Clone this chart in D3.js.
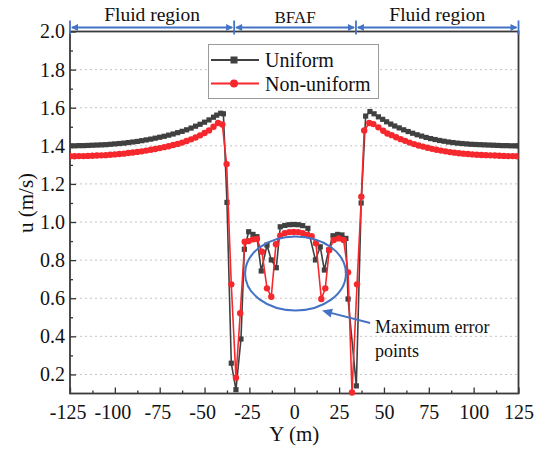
<!DOCTYPE html>
<html><head><meta charset="utf-8">
<script src="https://cdn.jsdelivr.net/npm/d3@7"></script>
<style>
html,body{margin:0;padding:0;background:#fff;}
svg{display:block;}
svg text{font-family:"Liberation Serif","Times New Roman",serif;}
</style></head>
<body><svg id="chart" width="535" height="450"></svg>
<script>
// ---- data ----
const uniformY = [-125,-122.5,-120,-117.5,-115,-112.5,-110,-107.5,-105,-102.5,-100,-97.5,-95,-92.5,-90,-87.5,-85,-82.5,-80,-77.5,-75,-72.5,-70,-67.5,-65,-62.5,-60,-57.5,-55,-52.5,-50,-47.5,-45,-43.2,-41,-39.5,-37.5,-35.1,-32.5,-29.7,-27.8,-25.4,-23.0,-20.8,-18.4,-15.2,-12.8,-10.0,-7.8,-5.3,-2.8,-0.3,2.2,4.7,7.6,11.8,14.5,16.8,19.2,21.6,24.2,26.6,28.8,30.0,34.6,37.3,39.8,42.2,44.5,46.9,49.3,51.5,53.8,56.0,58.5,61,63.5,66,68.5,71,73.5,76,78.5,81,83.5,86,88.5,91,93.5,96,98.5,101,103.5,106,108.5,111,113.5,116,118.5,121,123.5,125];
const uniformU = [1.400,1.400,1.401,1.401,1.402,1.403,1.404,1.405,1.406,1.408,1.410,1.412,1.414,1.417,1.420,1.423,1.427,1.431,1.435,1.440,1.445,1.450,1.456,1.462,1.469,1.476,1.484,1.493,1.503,1.513,1.524,1.536,1.550,1.561,1.571,1.568,1.103,0.259,0.120,0.386,0.857,0.949,0.935,0.923,0.743,0.879,0.801,0.760,0.975,0.982,0.986,0.987,0.986,0.981,0.967,0.801,0.870,0.748,0.853,0.928,0.935,0.932,0.914,0.596,0.140,1.100,1.556,1.580,1.568,1.552,1.539,1.526,1.514,1.504,1.494,1.484,1.475,1.466,1.458,1.451,1.444,1.438,1.433,1.428,1.424,1.420,1.417,1.414,1.412,1.410,1.408,1.407,1.406,1.405,1.404,1.403,1.402,1.401,1.401,1.400,1.400,1.400];
const nonUniformY = [-125,-122.5,-120,-117.5,-115,-112.5,-110,-107.5,-105,-102.5,-100,-97.5,-95,-92.5,-90,-87.5,-85,-82.5,-80,-77.5,-75,-72.5,-70,-67.5,-65,-62.5,-60,-57.5,-55,-52.5,-50,-47.5,-45,-42.5,-40.1,-37.7,-35.1,-32.5,-30.1,-27.6,-25.4,-23.0,-20.8,-18.0,-15.2,-12.8,-10.2,-7.8,-5.3,-2.8,-0.3,2.2,4.7,7.2,9.7,12.1,15.1,17.3,19.5,22.0,24.8,27.5,30.0,32.2,35.0,37.4,39.0,41.8,44.1,46.9,49.6,51.9,54.3,56.8,59.3,61.8,64.3,66.8,69.3,71.8,74.3,76.8,79.3,81.8,84.3,86.8,89.3,91.8,94.3,96.8,99.3,101.8,104.3,106.8,109.3,111.8,114.3,116.8,119.3,121.8,124.3];
const nonUniformU = [1.345,1.345,1.346,1.346,1.347,1.348,1.349,1.350,1.351,1.353,1.355,1.357,1.359,1.362,1.365,1.368,1.371,1.375,1.379,1.383,1.388,1.393,1.398,1.404,1.410,1.417,1.425,1.434,1.444,1.455,1.467,1.481,1.500,1.520,1.512,1.304,0.673,0.183,0.521,0.897,0.900,0.909,0.911,0.844,0.652,0.608,0.883,0.928,0.942,0.947,0.948,0.947,0.942,0.932,0.925,0.888,0.596,0.652,0.853,0.906,0.914,0.906,0.736,0.105,0.673,1.133,1.480,1.520,1.514,1.497,1.479,1.465,1.456,1.445,1.435,1.426,1.417,1.409,1.402,1.396,1.390,1.384,1.379,1.375,1.371,1.367,1.364,1.361,1.359,1.357,1.355,1.353,1.352,1.351,1.350,1.349,1.348,1.347,1.346,1.346,1.345];
const seriesNames = ["Uniform","Non-uniform"];
const xTicks = [-125,-100,-75,-50,-25,0,25,50,75,100,125];
const yTicks = [0.2,0.4,0.6,0.8,1.0,1.2,1.4,1.6,1.8,2.0];
const regionBounds = [-125,-33.5,34.4,125];
const regionLabels = ["Fluid region","BFAF","Fluid region"];
const annotationText = ["Maximum error","points"];

// ---- layout ----
const FONT = "Liberation Serif, Times New Roman, serif";
const svg = d3.select("#chart");
const L=70, R=518.5, T=31.5, B=393.5;
const x = d3.scaleLinear().domain([-125,125]).range([L,R]);
const y = d3.scaleLinear().domain([0.1,2.0]).range([B,T]);
const blackC="#404040", redC="#f5282d", blueC="#4472c4";

// grid
svg.append("g").selectAll("line").data(yTicks.filter(v=>v<2.0)).join("line")
  .attr("x1",L).attr("x2",R).attr("y1",d=>y(d)).attr("y2",d=>y(d))
  .attr("stroke","#c4c4c4").attr("stroke-width",1).attr("stroke-dasharray","2,3");

// axes
const fnt = 20;
const xAx = svg.append("g").attr("transform",`translate(0,${B})`)
  .call(d3.axisBottom(x).tickValues(xTicks).tickSizeInner(-6).tickSizeOuter(0).tickPadding(11).tickFormat(d=>String(d)));
const xMinor = d3.range(-112.5,125,25);
svg.append("g").attr("transform",`translate(0,${B})`)
  .call(d3.axisBottom(x).tickValues(xMinor).tickSizeInner(-3).tickSizeOuter(0).tickFormat(""));
const yAx = svg.append("g").attr("transform",`translate(${L},0)`)
  .call(d3.axisLeft(y).tickValues(yTicks).tickSizeInner(-6).tickSizeOuter(0).tickPadding(5).tickFormat(d=>d.toFixed(1)));
const yMinor = d3.range(0.3,2.0,0.2);
svg.append("g").attr("transform",`translate(${L},0)`)
  .call(d3.axisLeft(y).tickValues(yMinor).tickSizeInner(-3).tickSizeOuter(0).tickFormat(""));
svg.selectAll(".domain").remove();
svg.selectAll("g").attr("font-family",FONT);
svg.selectAll(".tick line").attr("stroke","#333").attr("stroke-width",1.3);
svg.selectAll(".tick text").attr("font-size",fnt).attr("font-family",FONT).attr("fill","#111");
xAx.selectAll(".tick text").attr("dx", d=> d<0 ? "-0.12em" : 0);

// frame
svg.append("rect").attr("x",L).attr("y",T).attr("width",R-L).attr("height",B-T)
  .attr("fill","none").attr("stroke","#3a3a3a").attr("stroke-width",1.8);

// axis titles
svg.append("text").attr("x",(L+R)/2).attr("y",441).attr("text-anchor","middle")
  .attr("font-family",FONT).attr("font-size",21).attr("fill","#111").text("Y (m)");
svg.append("text").attr("transform",`translate(33,${y(1.1)}) rotate(-90)`).attr("text-anchor","middle")
  .attr("font-family",FONT).attr("font-size",21).attr("fill","#111").text("u (m/s)");

// series
const defs = svg.append("defs");
defs.append("clipPath").attr("id","clip").append("rect").attr("x",L).attr("y",T).attr("width",R-L).attr("height",B-T+4);
const line = d3.line().x(d=>x(d[0])).y(d=>y(d[1]));
const uData = uniformY.map((v,i)=>[v,uniformU[i]]);
const nData = nonUniformY.map((v,i)=>[v,nonUniformU[i]]);
const plot = svg.append("g").attr("clip-path","url(#clip)");
plot.append("path").datum(uData).attr("d",line).attr("fill","none").attr("stroke",blackC).attr("stroke-width",1.6);
plot.append("g").selectAll("rect").data(uData).join("rect")
  .attr("x",d=>x(d[0])-2.6).attr("y",d=>y(d[1])-2.6).attr("width",5.2).attr("height",5.2).attr("fill",blackC);
plot.append("path").datum(nData).attr("d",line).attr("fill","none").attr("stroke",redC).attr("stroke-width",1.6);
plot.append("g").selectAll("circle").data(nData).join("circle")
  .attr("cx",d=>x(d[0])).attr("cy",d=>y(d[1])).attr("r",3.2).attr("fill",redC);

// legend
const lg = svg.append("g");
lg.append("rect").attr("x",208.5).attr("y",44.5).attr("width",170).attr("height",54)
  .attr("fill","#fff").attr("stroke","#9a9a9a").attr("stroke-width",1);
const rows=[60,83.5];
lg.append("line").attr("x1",211).attr("x2",259).attr("y1",rows[0]).attr("y2",rows[0]).attr("stroke",blackC).attr("stroke-width",1.8);
lg.append("rect").attr("x",230.5).attr("y",rows[0]-3.5).attr("width",7).attr("height",7).attr("fill",blackC);
lg.append("line").attr("x1",211).attr("x2",259).attr("y1",rows[1]).attr("y2",rows[1]).attr("stroke",redC).attr("stroke-width",1.8);
lg.append("circle").attr("cx",234).attr("cy",rows[1]).attr("r",4).attr("fill",redC);
lg.selectAll("text.lab").data(seriesNames).join("text").attr("class","lab")
  .attr("x",265).attr("y",(d,i)=>rows[i]+7).attr("font-family",FONT).attr("font-size",20).attr("fill","#111").text(d=>d);

// region arrows on top
const ay = 27.5;
const ann = svg.append("g");
regionBounds.forEach(b=>{
  ann.append("line").attr("x1",x(b)).attr("x2",x(b)).attr("y1",ay-7).attr("y2",ay+7).attr("stroke",blueC).attr("stroke-width",1.8);
});
for(let i=0;i<regionBounds.length-1;i++){
  const a=x(regionBounds[i]), b=x(regionBounds[i+1]);
  ann.append("line").attr("x1",a+2).attr("x2",b-2).attr("y1",ay).attr("y2",ay).attr("stroke",blueC).attr("stroke-width",1.8);
  ann.append("path").attr("d",`M${a+1},${ay} L${a+8},${ay-3.5} L${a+8},${ay+3.5} Z`).attr("fill",blueC);
  ann.append("path").attr("d",`M${b-1},${ay} L${b-8},${ay-3.5} L${b-8},${ay+3.5} Z`).attr("fill",blueC);
  ann.append("text").attr("x",(a+b)/2).attr("y",i===1?22.5:20.5).attr("text-anchor","middle")
    .attr("font-family",FONT).attr("font-size",i===1?17:19.5).attr("fill","#111").text(regionLabels[i]);
}

// ellipse + arrow annotation
svg.append("ellipse").attr("cx",x(0.7)).attr("cy",y(0.73)).attr("rx",x(28.8)-x(0.7)).attr("ry",37)
  .attr("fill","none").attr("stroke",blueC).attr("stroke-width",2);
const tip=[x(15.5),y(0.535)], tail=[x(42.3),y(0.47)];
const ang=Math.atan2(tail[1]-tip[1],tail[0]-tip[0]);
svg.append("line").attr("x1",tail[0]).attr("y1",tail[1]).attr("x2",tip[0]+6*Math.cos(ang)).attr("y2",tip[1]+6*Math.sin(ang))
  .attr("stroke",blueC).attr("stroke-width",2);
const hl=10, hw=4.5;
const bx=tip[0]+hl*Math.cos(ang), by=tip[1]+hl*Math.sin(ang);
svg.append("path").attr("d",`M${tip[0]},${tip[1]} L${bx-hw*Math.sin(ang)},${by+hw*Math.cos(ang)} L${bx+hw*Math.sin(ang)},${by-hw*Math.cos(ang)} Z`).attr("fill",blueC);
svg.selectAll("text.ann").data(annotationText).join("text").attr("class","ann")
  .attr("x",375).attr("y",(d,i)=>333+i*24).attr("font-family",FONT).attr("font-size",18).attr("fill","#111").text(d=>d);
</script></body></html>
